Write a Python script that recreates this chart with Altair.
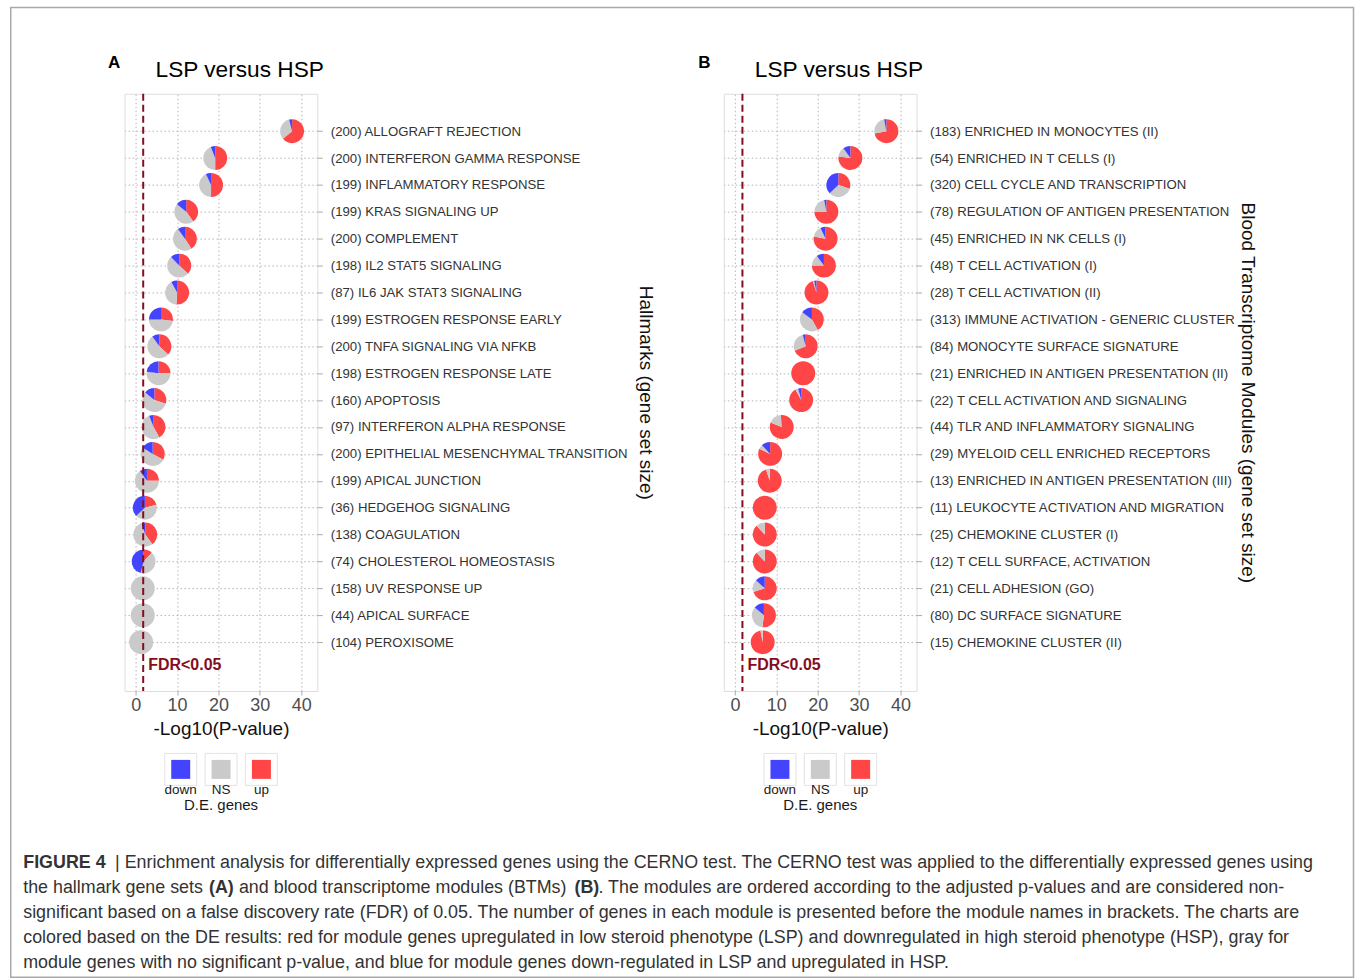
import json
import math
import altair as alt
import pandas as pd

FONT = "Liberation Sans"
DARKRED = "#850d1e"

# ---------------- data ----------------
a_names = [
    "(200) ALLOGRAFT REJECTION", "(200) INTERFERON GAMMA RESPONSE", "(199) INFLAMMATORY RESPONSE",
    "(199) KRAS SIGNALING UP", "(200) COMPLEMENT", "(198) IL2 STAT5 SIGNALING",
    "(87) IL6 JAK STAT3 SIGNALING", "(199) ESTROGEN RESPONSE EARLY", "(200) TNFA SIGNALING VIA NFKB",
    "(198) ESTROGEN RESPONSE LATE", "(160) APOPTOSIS", "(97) INTERFERON ALPHA RESPONSE",
    "(200) EPITHELIAL MESENCHYMAL TRANSITION", "(199) APICAL JUNCTION", "(36) HEDGEHOG SIGNALING",
    "(138) COAGULATION", "(74) CHOLESTEROL HOMEOSTASIS", "(158) UV RESPONSE UP",
    "(44) APICAL SURFACE", "(104) PEROXISOME",
]
a_logp = [37.8, 19.2, 18.2, 12.2, 11.9, 10.5, 10.0, 6.1, 5.7, 5.5,
          4.5, 4.3, 4.1, 2.7, 2.2, 2.3, 1.9, 1.7, 1.7, 1.3]
a_up = [64, 50, 50, 40, 41, 37, 51, 27, 37, 25, 30, 42, 33, 25, 21, 40, 12, 0, 0, 0]
a_ns = [32, 44, 43, 46, 49, 51, 41, 48, 53, 52, 56, 52, 51, 65, 42, 55, 42, 100, 100, 100]
a_down = [4, 6, 7, 14, 10, 12, 8, 25, 10, 23, 14, 6, 16, 10, 37, 5, 46, 0, 0, 0]

b_names = [
    "(183) ENRICHED IN MONOCYTES (II)", "(54) ENRICHED IN T CELLS (I)", "(320) CELL CYCLE AND TRANSCRIPTION",
    "(78) REGULATION OF ANTIGEN PRESENTATION", "(45) ENRICHED IN NK CELLS (I)", "(48) T CELL ACTIVATION (I)",
    "(28) T CELL ACTIVATION (II)", "(313) IMMUNE ACTIVATION - GENERIC CLUSTER", "(84) MONOCYTE SURFACE SIGNATURE",
    "(21) ENRICHED IN ANTIGEN PRESENTATION (II)", "(22) T CELL ACTIVATION AND SIGNALING",
    "(44) TLR AND INFLAMMATORY SIGNALING", "(29) MYELOID CELL ENRICHED RECEPTORS",
    "(13) ENRICHED IN ANTIGEN PRESENTATION (III)", "(11) LEUKOCYTE ACTIVATION AND MIGRATION",
    "(25) CHEMOKINE CLUSTER (I)", "(12) T CELL SURFACE, ACTIVATION", "(21) CELL ADHESION (GO)",
    "(80) DC SURFACE SIGNATURE", "(15) CHEMOKINE CLUSTER (II)",
]
b_logp = [36.6, 27.9, 25.0, 22.1, 21.9, 21.5, 19.7, 18.6, 17.1, 16.5,
          16.0, 11.3, 8.5, 8.4, 7.2, 7.2, 7.2, 7.2, 7.0, 6.7]
b_up = [72, 77, 30, 75, 78, 75, 95, 42, 69, 100, 92, 81, 82, 95, 100, 88, 88, 70, 52, 97]
b_ns = [25, 13, 33, 22, 15, 15, 2, 43, 27, 0, 4, 18, 6, 5, 0, 12, 12, 17, 34, 3]
b_down = [3, 10, 37, 3, 7, 10, 3, 15, 4, 0, 4, 1, 12, 0, 0, 0, 0, 13, 14, 0]

categories = ["down", "NS", "up"]
cat_colors = ["#4444ff", "#cacaca", "#ff4545"]
x_ticks = [0, 10, 20, 30, 40]
fdr_threshold = 1.8

caption_lines = [
    [("FIGURE 4", "bold", 22), ("| Enrichment analysis for differentially expressed genes using the CERNO test. The CERNO test was applied to the differentially expressed genes using", "normal", 114)],
    [("the hallmark gene sets", "normal", 22), ("(A)", "bold", 208), ("and blood transcriptome modules (BTMs)", "normal", 238), ("(B)", "bold", 574), (". The modules are ordered according to the adjusted p-values and are considered non-", "normal", 598)],
    [("significant based on a false discovery rate (FDR) of 0.05. The number of genes in each module is presented before the module names in brackets. The charts are", "normal", 22)],
    [("colored based on the DE results: red for module genes upregulated in low steroid phenotype (LSP) and downregulated in high steroid phenotype (HSP), gray for", "normal", 22)],
    [("module genes with no significant p-value, and blue for module genes down-regulated in LSP and upregulated in HSP.", "normal", 22)],
]

# ---------------- layout constants (pixels) ----------------
PW, PH = 193, 598
PLOT_LEFT, PLOT_TOP = 123.5, 92.3
XDOM = [-2.7, 43.9]
YDOM = [-1.39, 20.816]

color_scale = alt.Scale(domain=categories, range=cat_colors)


def pie_frame(names, logp, up, ns, down):
    rows = []
    for i, n in enumerate(names):
        tot = up[i] + ns[i] + down[i]
        s = 0.0
        for cat, v in (("up", up[i]), ("NS", ns[i]), ("down", down[i])):
            if v <= 0:
                continue
            rows.append(dict(name=n, rank=i, logp=logp[i], cat=cat,
                             start=s / tot, end=(s + v) / tot))
            s += v
    return pd.DataFrame(rows)


def text_layer(text, x, y, size, weight="normal", color="#000000", align="left",
               baseline="alphabetic", font=FONT):
    return alt.Chart(pd.DataFrame({"t": [text]})).mark_text(
        text=text, align=align, baseline=baseline, fontSize=size, fontWeight=weight,
        color=color, font=font,
    ).encode(x=alt.value(x), y=alt.value(y))


def panel(letter, letter_x, names, logp, up, ns, down, ytitle, title_x, extra=None):
    df = pie_frame(names, logp, up, ns, down)
    xscale = alt.Scale(domain=XDOM, nice=False, zero=False)
    yscale = alt.Scale(domain=YDOM, reverse=True, nice=False, zero=False)
    xaxis = alt.Axis(
        values=x_ticks, title="-Log10(P-value)", grid=True, gridColor="#b5b5b5",
        gridDash=[1.5, 2.5], gridWidth=1, domain=False, tickSize=4, tickColor="#aaaaaa",
        labelFontSize=18, labelColor="#4d4d4d", labelPadding=2, labelFont=FONT,
        titleFont=FONT, titleFontSize=19, titleFontWeight="normal", titleColor="#111111",
        titlePadding=5, labelFlush=False,
    )
    yaxis = alt.Axis(
        orient="right", values=list(range(len(names))),
        labelExpr=json.dumps(names) + "[datum.value]", title=ytitle,
        grid=True, gridColor="#b5b5b5", gridDash=[1.5, 2.5], gridWidth=1,
        domain=False, tickSize=5, tickColor="#aaaaaa", labelFontSize=13.2,
        labelColor="#333333", labelPadding=8, labelFont=FONT, labelOverlap=False,
        labelFlush=False, labelLimit=1000, titleFont=FONT, titleFontSize=19,
        titleFontWeight="normal", titleColor="#111111", titleX=title_x, titleY=PH / 2,
        titleAngle=90, titleAlign="center", titleBaseline="middle",
    )
    pies = alt.Chart(df).mark_arc(radius=12, stroke=None).encode(
        x=alt.X("logp:Q", scale=xscale, axis=xaxis),
        y=alt.Y("rank:Q", scale=yscale, axis=yaxis),
        theta=alt.Theta("start:Q", scale=alt.Scale(domain=[0, 1], range=[0, 2 * math.pi]), stack=None),
        theta2="end:Q",
        color=alt.Color("cat:N", scale=color_scale, legend=None),
    )
    fdr_df = pd.DataFrame({"fdr": [fdr_threshold]})
    rule = alt.Chart(fdr_df).mark_rule(color=DARKRED, strokeWidth=2, strokeDash=[7, 4]).encode(
        x=alt.X("fdr:Q", scale=xscale, axis=xaxis)
    )
    fdr_text = alt.Chart(fdr_df).mark_text(
        text="FDR<0.05", align="left", baseline="alphabetic", dx=5, fontSize=16,
        fontWeight="bold", color=DARKRED, font=FONT,
    ).encode(x=alt.X("fdr:Q", scale=xscale, axis=xaxis), y=alt.value(577))

    layers = [pies, rule, fdr_text]
    # title and panel letter
    layers.append(text_layer(letter, letter_x, -26, 17, weight="bold"))
    layers.append(text_layer("LSP versus HSP", 31, -17, 22.7))
    # legend
    for i, cat in enumerate(categories):
        cx = 56.2 + 40.4 * i
        ldf = pd.DataFrame({"cat": [cat]})
        layers.append(alt.Chart(ldf).mark_square(size=1024, filled=True, fill="white",
                                                  stroke="#e3e3e3", strokeWidth=1, opacity=1)
                      .encode(x=alt.value(cx), y=alt.value(676.5)))
        layers.append(alt.Chart(ldf).mark_square(size=361, filled=True, opacity=1)
                      .encode(x=alt.value(cx), y=alt.value(676.5),
                              color=alt.Color("cat:N", scale=color_scale, legend=None)))
        layers.append(text_layer(cat, cx, 697, 13.5, align="center", baseline="middle",
                                 color="#1a1a1a"))
    layers.append(text_layer("D.E. genes", 56.2 + 40.4, 711.7, 15, align="center",
                             baseline="middle", color="#1a1a1a"))
    if extra:
        layers.extend(extra)
    return alt.layer(*layers).properties(width=PW, height=PH)


# caption + outer frame (drawn in panel A's coordinate frame)
extra = []
frame = alt.Chart(pd.DataFrame({"f": [0]})).mark_rect(
    fill="white", fillOpacity=0, stroke="#a9a9a9", strokeWidth=1.5
).encode(
    x=alt.value(9.5 - PLOT_LEFT), x2=alt.value(1354 - PLOT_LEFT),
    y=alt.value(6 - PLOT_TOP), y2=alt.value(977 - PLOT_TOP),
)
extra.append(frame)
for li, segs in enumerate(caption_lines):
    ycen = 863 + 25 * li - PLOT_TOP
    for text, weight, x0 in segs:
        extra.append(text_layer(text, x0 - PLOT_LEFT, ycen, 17.9, weight=weight,
                                color="#333333", baseline="middle"))

pA = panel("A", -16.5, a_names, a_logp, a_up, a_ns, a_down, "Hallmarks (gene set size)", 328.5, extra)
pB = panel("B", -25.5, b_names, b_logp, b_up, b_ns, b_down, "Blood Transcriptome Modules (gene set size)", 331.5)

chart = alt.hconcat(pA, pB, spacing=407, bounds="flush").properties(
    padding={"left": 8.75, "top": 5.25, "right": 0, "bottom": 0}
).configure_view(
    stroke="#bfbfbf", strokeWidth=2, fill="#f8f8f8"
).configure(background="white")

chart.save("out.html", embed_options={"renderer": "svg", "actions": False})
